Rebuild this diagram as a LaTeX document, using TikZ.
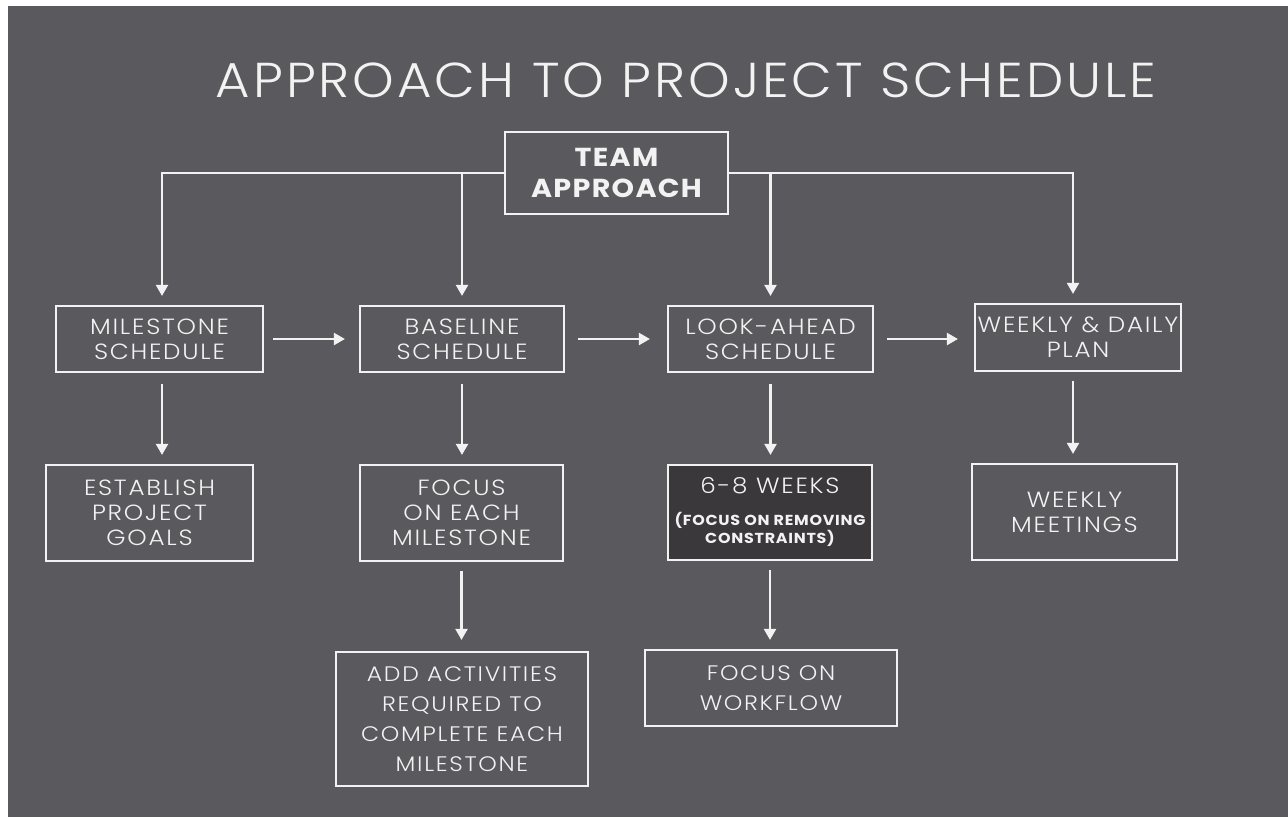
\documentclass[tikz,border=0pt]{standalone}
\usepackage{fontspec}
\setmainfont{Poppins}
\IfFontExistsTF{Poppins Light}{\def\lightname{Poppins Light}}{\def\lightname{Poppins}}
\newfontfamily\lightf[FakeStretch=1.12,LetterSpace=8]{\lightname}
\newfontfamily\titlef[FakeStretch=1.08,LetterSpace=6]{\lightname}
\newfontfamily\boldf[FakeStretch=1.1,LetterSpace=5]{Poppins}
\usetikzlibrary{arrows.meta}
\definecolor{bggray}{HTML}{5A595D}
\definecolor{darkbox}{HTML}{3A383A}
\definecolor{ink}{HTML}{F2F2F2}
\tikzset{
  box/.style={draw=ink, line width=2.2pt, text=ink, align=center, inner sep=0pt},
  rowtxt/.style={font=\lightf\fontsize{22}{25}\selectfont},
  lowtxt/.style={font=\lightf\fontsize{21}{30}\selectfont},
  conn/.style={draw=ink, line width=2.2pt},
  arr/.style={conn, -{Triangle[length=11pt,width=12pt]}},
}
\begin{document}
\begin{tikzpicture}[x=1pt,y=-1pt]
\useasboundingbox (0,0) rectangle (1288,817);
\fill[white] (0,0) rectangle (1288,817);
\fill[bggray] (8,6) rectangle (1288,817);
\node[text=ink, anchor=base, inner sep=0pt, font=\titlef\fontsize{49}{49}\selectfont] (title) at (686,97) {APPROACH TO PROJECT SCHEDULE};

\node[box, minimum width=223pt, minimum height=82pt, font=\boldf\bfseries\fontsize{26}{31}\selectfont] (team) at (616.5,173) {TEAM\\APPROACH};

\node[box, rowtxt, minimum width=207pt, minimum height=66pt] (ms) at (159.5,339) {MILESTONE\\SCHEDULE};
\node[box, rowtxt, minimum width=204pt, minimum height=66pt] (bl) at (462,339) {BASELINE\\SCHEDULE};
\node[box, rowtxt, minimum width=205pt, minimum height=66pt] (la) at (770.5,339) {LOOK-AHEAD\\SCHEDULE};
\node[box, rowtxt, minimum width=206pt, minimum height=67pt] (wd) at (1078,337.5) {WEEKLY \& DAILY\\PLAN};

\node[box, rowtxt, minimum width=207pt, minimum height=96pt] (eg) at (149.5,513) {ESTABLISH\\PROJECT\\GOALS};
\node[box, rowtxt, minimum width=203pt, minimum height=96pt] (fe) at (461.5,513) {FOCUS\\ON EACH\\MILESTONE};
\node[box, fill=darkbox, minimum width=204pt, minimum height=95pt, font=\lightf\fontsize{22}{26}\selectfont] (wk) at (770,512.5) {6-8 WEEKS\\[14pt]{\boldf\bfseries\fontsize{14.5}{15}\selectfont\begin{tabular}{@{}c@{}}(FOCUS ON REMOVING\\CONSTRAINTS)\end{tabular}}};
\node[box, rowtxt, minimum width=205pt, minimum height=96pt] (wm) at (1074.5,512) {WEEKLY\\MEETINGS};

\node[box, lowtxt, minimum width=252pt, minimum height=134pt] (aa) at (462,719) {ADD ACTIVITIES\\REQUIRED TO\\COMPLETE EACH\\MILESTONE};
\node[box, lowtxt, minimum width=252pt, minimum height=76pt] (fw) at (771,688) {FOCUS ON\\WORKFLOW};

% top distribution
\draw[arr, shorten >=9pt] (team.west) -| ([xshift=2.5pt]ms.north);
\draw[arr, shorten >=9pt] (bl.north |- team.west) -- (bl.north);
\draw[arr, shorten >=9pt] (team.east) -| ([xshift=-5pt]wd.north);
\draw[arr, shorten >=9pt] (la.north |- team.east) -- (la.north);

% horizontal
\draw[arr, shorten <=9pt, shorten >=14pt] (ms.east) -- (bl.west);
\draw[arr, shorten <=13pt, shorten >=17pt] (bl.east) -- (la.west);
\draw[arr, shorten <=13pt, shorten >=16pt] (la.east) -- (la.east -| wd.west);

% vertical
\draw[arr, shorten <=11pt, shorten >=9pt] ([xshift=2.5pt]ms.south) -- ([xshift=2.5pt]ms.south |- eg.north);
\draw[arr, shorten <=11pt, shorten >=9pt] (bl.south) -- (bl.south |- fe.north);
\draw[arr, shorten <=11pt, shorten >=9pt] (la.south) -- (la.south |- wk.north);
\draw[arr, shorten <=9pt, shorten >=9pt] ([xshift=-5pt]wd.south) -- ([xshift=-5pt]wd.south |- wm.north);
\draw[arr, shorten <=9pt, shorten >=11pt] (fe.south) -- (fe.south |- aa.north);
\draw[arr, shorten <=9pt, shorten >=9pt] (wk.south) -- (wk.south |- fw.north);
\end{tikzpicture}
\end{document}
